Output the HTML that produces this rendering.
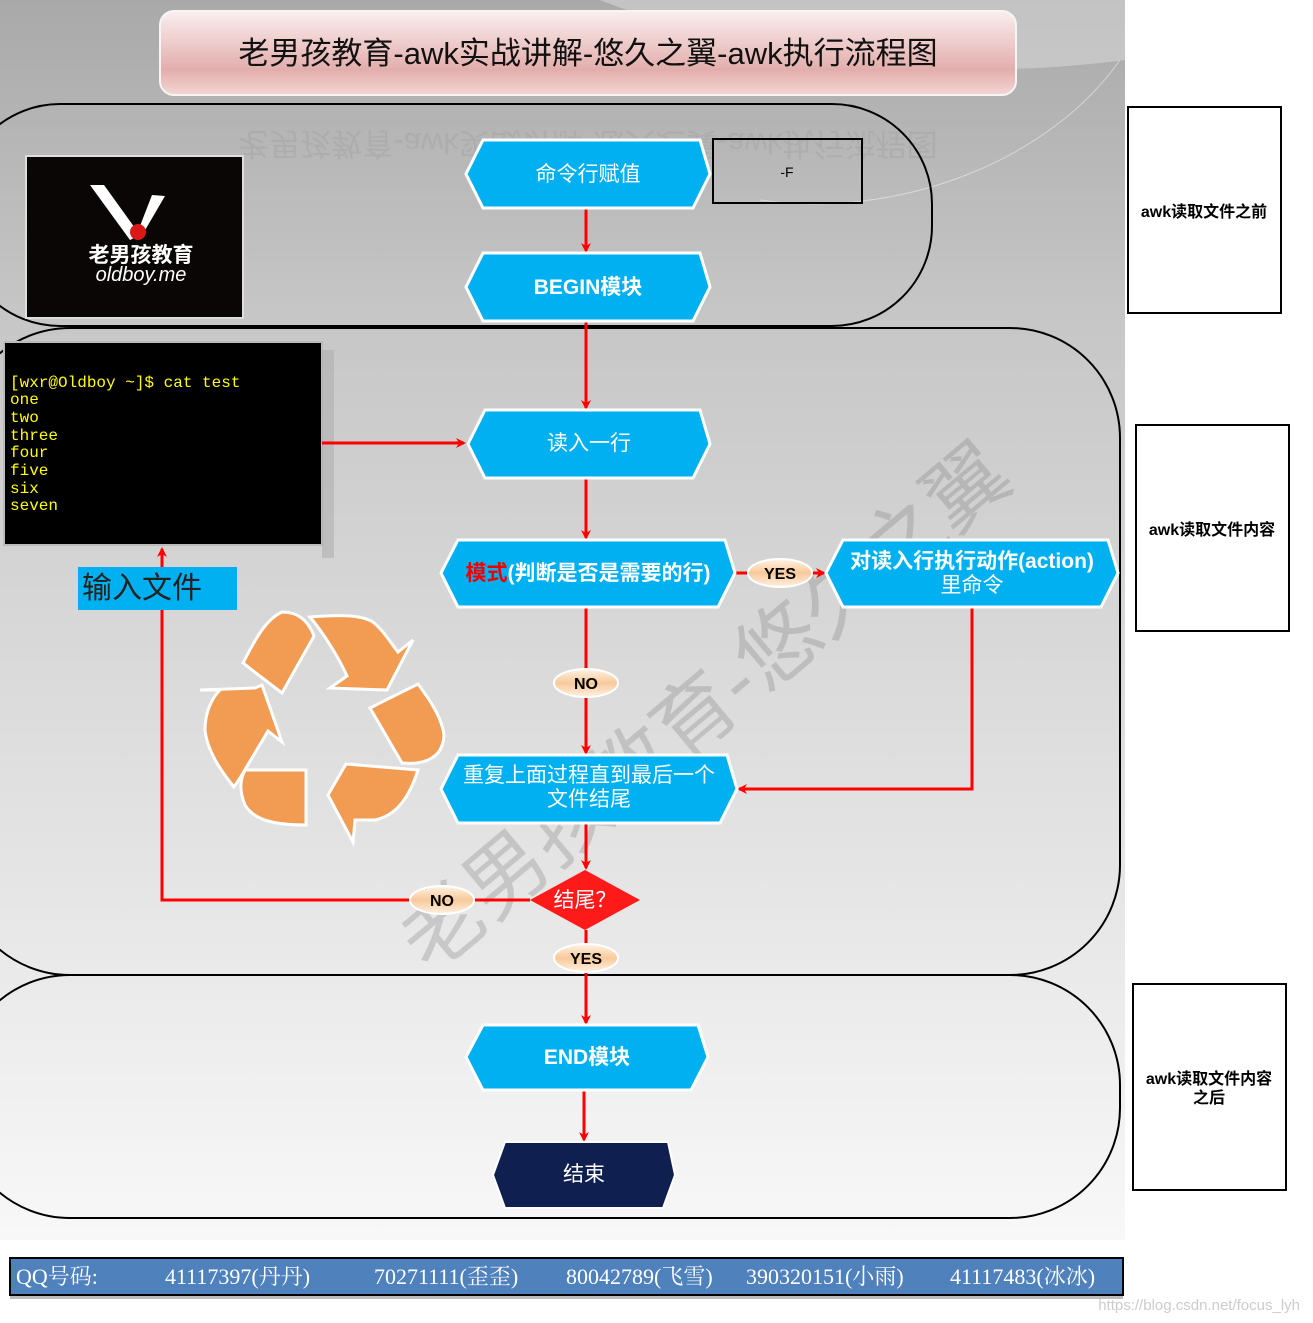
<!DOCTYPE html>
<html><head><meta charset="utf-8"><style>
html,body{margin:0;padding:0;background:#fff;}
svg{display:block;}
</style></head><body>
<svg width="1313" height="1323" viewBox="0 0 1313 1323" xmlns="http://www.w3.org/2000/svg" font-family="Liberation Sans, Noto Sans CJK SC, sans-serif">
<defs>
<linearGradient id="bg" x1="0" y1="0" x2="0" y2="1">
<stop offset="0" stop-color="#a9a9a9"/><stop offset="0.25" stop-color="#c6c6c6"/><stop offset="0.6" stop-color="#dedede"/><stop offset="1" stop-color="#f8f8f8"/></linearGradient>
<linearGradient id="tt" x1="0" y1="0" x2="0" y2="1">
<stop offset="0" stop-color="#fbefef"/><stop offset="0.7" stop-color="#e2aeac"/><stop offset="1" stop-color="#f4d6d4"/></linearGradient>
<linearGradient id="pill" x1="0" y1="0" x2="0" y2="1">
<stop offset="0" stop-color="#fff4e6"/><stop offset="0.5" stop-color="#f8c99a"/><stop offset="1" stop-color="#fff1e0"/></linearGradient>
<marker id="ar" markerWidth="10" markerHeight="10" refX="8" refY="5" orient="auto" markerUnits="userSpaceOnUse"><path d="M0,0 L10,5 L0,10 L3,5 Z" fill="#ff0000"/></marker>
</defs>
<rect x="0" y="0" width="1125" height="1240" fill="url(#bg)"/>
<path d="M600,0 C700,40 900,90 1125,60 L1125,0 Z" fill="#d6d6d6" opacity="0.6"/>
<path d="M760,200 C900,220 1050,160 1120,60" stroke="#eee" stroke-width="1" fill="none" opacity="0.6"/>
<!-- title -->
<rect x="160" y="11" width="856" height="84" rx="14" fill="url(#tt)" stroke="#f5f5f5" stroke-width="2"/>
<text x="588" y="64" font-size="31" text-anchor="middle" fill="#111">老男孩教育-awk实战讲解-悠久之翼-awk执行流程图</text>
<text x="588" y="135" font-size="31" text-anchor="middle" fill="#999" opacity="0.3" transform="translate(0,268) scale(1,-1)" >老男孩教育-awk实战讲解-悠久之翼-awk执行流程图</text>
<!-- watermark -->
<text x="0" y="0" font-size="82" fill="#777" opacity="0.28" transform="translate(430,975) rotate(-40)">老男孩教育-悠久之翼</text>
<!-- containers -->
<rect x="-40" y="104" width="972" height="222" rx="100" fill="none" stroke="#000" stroke-width="2"/>
<rect x="-40" y="328" width="1160" height="647" rx="110" fill="none" stroke="#000" stroke-width="2"/>
<rect x="-40" y="975" width="1160" height="243" rx="110" fill="none" stroke="#000" stroke-width="2"/>
<!-- side boxes -->
<rect x="1128" y="107" width="153" height="206" fill="#fff" stroke="#000" stroke-width="2"/>
<text x="1204" y="217" font-size="16" text-anchor="middle" fill="#000" font-weight="bold">awk读取文件之前</text>
<rect x="1136" y="425" width="153" height="206" fill="#fff" stroke="#000" stroke-width="2"/>
<text x="1212" y="535" font-size="16" text-anchor="middle" fill="#000" font-weight="bold">awk读取文件内容</text>
<rect x="1133" y="984" width="153" height="206" fill="#fff" stroke="#000" stroke-width="2"/>
<text x="1209" y="1084" font-size="16" text-anchor="middle" fill="#000" font-weight="bold">awk读取文件内容</text>
<text x="1209" y="1103" font-size="16" text-anchor="middle" fill="#000" font-weight="bold">之后</text>
<!-- -F box -->
<rect x="713" y="139" width="149" height="64" fill="none" stroke="#000" stroke-width="2"/>
<text x="787" y="177" font-size="14" text-anchor="middle" fill="#000">-F</text>
<!-- logo -->
<rect x="26" y="156" width="217" height="162" fill="#0a0606" stroke="#ddd" stroke-width="2"/>
<path d="M90,185 L104,185 L140,235 L130,240 Z" fill="#fff"/>
<path d="M152,195 L165,196 L144,232 L140,226 Z" fill="#fff"/>
<circle cx="138" cy="232" r="8" fill="#d91818"/>
<text x="141" y="262" font-size="21" text-anchor="middle" fill="#fff" font-weight="bold">老男孩教育</text>
<text x="141" y="281" font-size="20" text-anchor="middle" fill="#fff" font-style="italic">oldboy.me</text>
<!-- terminal -->
<rect x="4" y="342" width="318" height="203" fill="#000" stroke="#bbb" stroke-width="2"/>
<rect x="322" y="350" width="12" height="208" fill="#aaa" opacity="0.5"/>
<g fill="#ffff00" font-size="16" font-family="Liberation Mono, DejaVu Sans Mono, monospace">
<text x="10" y="387">[wxr@Oldboy ~]$ cat test</text>
<text x="10" y="404">one</text>
<text x="10" y="422">two</text>
<text x="10" y="440">three</text>
<text x="10" y="457">four</text>
<text x="10" y="475">five</text>
<text x="10" y="493">six</text>
<text x="10" y="510">seven</text>
</g>
<!-- recycle -->
<g fill="#f29b52" stroke="#fff" stroke-width="3">
<path d="M243,663 C255,640 265,620 282,612 C298,612 308,620 314,636 L282,693 Z"/>
<path d="M310,617 C335,615 360,614 373,622 C385,632 392,645 398,652 L413,640 L387,690 L330,688 L347,676 C340,660 325,635 310,617 Z"/>
<path d="M370,708 L418,684 C430,700 442,718 444,735 C443,758 425,765 402,763 Z"/>
<path d="M346,764 L418,770 C410,795 398,815 375,820 L355,820 L353,842 L328,795 Z"/>
<path d="M245,770 L306,770 L306,825 C280,825 255,822 245,805 C239,790 240,780 245,770 Z"/>
<path d="M200,690 L255,688 L262,685 L282,742 L268,731 L240,778 L234,787 C220,770 207,750 205,730 C205,715 210,700 220,690 Z"/>
</g>
<!-- connectors -->
<g stroke="#ff0000" stroke-width="3" fill="none">
<line x1="586" y1="208" x2="586" y2="251" marker-end="url(#ar)"/>
<line x1="586" y1="321" x2="586" y2="408" marker-end="url(#ar)"/>
<line x1="322" y1="443" x2="464" y2="443" marker-end="url(#ar)"/>
<line x1="586" y1="478" x2="586" y2="538" marker-end="url(#ar)"/>
<line x1="735" y1="573" x2="824" y2="573" marker-end="url(#ar)"/>
<line x1="586" y1="607" x2="586" y2="753" marker-end="url(#ar)"/>
<polyline points="972,607 972,789 739,789" marker-end="url(#ar)"/>
<line x1="586" y1="823" x2="586" y2="868" marker-end="url(#ar)"/>
<polyline points="530,900 162,900 162,549" marker-end="url(#ar)"/>
<line x1="586" y1="930" x2="586" y2="1023" marker-end="url(#ar)"/>
<line x1="584" y1="1090" x2="584" y2="1140" marker-end="url(#ar)"/>
</g>
<!-- input label -->
<rect x="78" y="567" width="159" height="43" fill="#00b0f0"/>
<text x="82" y="598" font-size="30" fill="#222">输入文件</text>
<!-- hex nodes -->
<g fill="#00b0f0" stroke="#fff" stroke-width="3">
<polygon points="466,174 483,140 700,140 710,174 693,208 483,208"/>
<polygon points="466,287 483,253 700,253 710,287 693,321 483,321"/>
<polygon points="468,444 485,410 700,410 710,444 693,478 485,478"/>
<polygon points="441,573 458,540 725,540 735,573 718,607 458,607"/>
<polygon points="826,573 843,540 1108,540 1118,573 1101,607 843,607"/>
<polygon points="441,789 458,755 727,755 737,789 720,823 458,823"/>
<polygon points="466,1057 483,1025 698,1025 708,1057 691,1090 483,1090"/>
</g>
<polygon points="493,1175 505,1142 668,1142 675,1175 663,1208 505,1208" fill="#0f1f4f" stroke="#fff" stroke-width="2"/>
<polygon points="585,870 640,900 585,930 530,900" fill="#ff1a1a"/>
<g fill="#fff" text-anchor="middle" font-size="21">
<text x="588" y="181">命令行赋值</text>
<text x="588" y="294" font-weight="bold">BEGIN模块</text>
<text x="589" y="450">读入一行</text>
<text x="588" y="580" font-weight="bold"><tspan fill="#e00">模式</tspan>(判断是否是需要的行)</text>
<text x="972" y="568" font-weight="bold">对读入行执行动作(action)</text>
<text x="972" y="592">里命令</text>
<text x="589" y="782">重复上面过程直到最后一个</text>
<text x="589" y="806">文件结尾</text>
<text x="585" y="907">结尾？</text>
<text x="587" y="1064" font-weight="bold">END模块</text>
<text x="584" y="1181">结束</text>
</g>
<!-- pills -->
<g stroke="#fff" stroke-width="2" fill="url(#pill)">
<ellipse cx="780" cy="573" rx="32" ry="14"/>
<ellipse cx="586" cy="683" rx="32" ry="14"/>
<ellipse cx="442" cy="900" rx="32" ry="14"/>
<ellipse cx="586" cy="958" rx="32" ry="14"/>
</g>
<g font-size="16" font-weight="bold" text-anchor="middle" fill="#000">
<text x="780" y="579">YES</text>
<text x="586" y="689">NO</text>
<text x="442" y="906">NO</text>
<text x="586" y="964">YES</text>
</g>
<!-- bottom bar -->
<rect x="10" y="1258" width="1113" height="37" fill="#4f81bd" stroke="#000" stroke-width="2"/>
<rect x="10" y="1296" width="1113" height="3" fill="#bbb"/>
<g fill="#fff" font-size="22" font-family="Liberation Serif, Noto Serif CJK SC, serif">
<text x="16" y="1284">QQ号码:</text>
<text x="165" y="1284">41117397(丹丹)</text>
<text x="374" y="1284">70271111(歪歪)</text>
<text x="566" y="1284">80042789(飞雪)</text>
<text x="746" y="1284">390320151(小雨)</text>
<text x="950" y="1284">41117483(冰冰)</text>
</g>
<text x="1300" y="1310" font-size="15" text-anchor="end" fill="#ccc">https://blog.csdn.net/focus_lyh</text>
</svg>
</body></html>
